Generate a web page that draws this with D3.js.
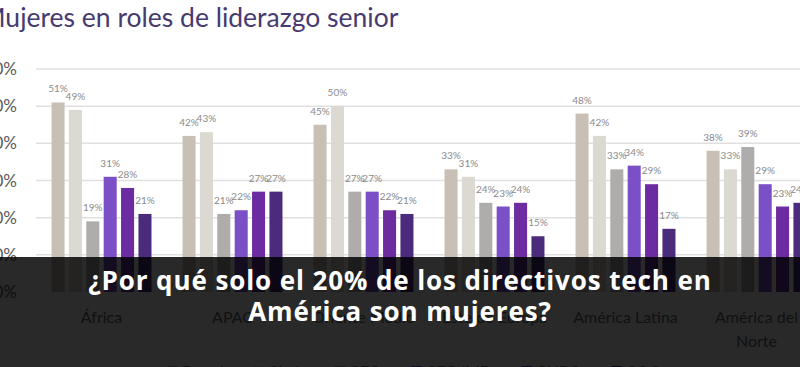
<!DOCTYPE html>
<html>
<head>
<meta charset="utf-8">
<script src="https://cdn.jsdelivr.net/npm/d3@7"></script>
<style>
  html, body { margin: 0; padding: 0; background: #fff; overflow: hidden; }
  svg { display: block; }
</style>
</head>
<body>
<svg id="chart" width="800" height="367"></svg>
<script>
// data
const regions = ["África", "APAC", "Oriente Medio", "Este de Europa", "América Latina", "América del Norte"];
const seriesNames = ["Board", "Chair", "CEO", "CEO/MD", "CHRO", "COO"];
const seriesColors = ["#c9c0b5", "#dcd8d2", "#afadab", "#7b4fc6", "#6c2ba0", "#4b2b7b"];
const values = [
    [51, 49, 19, 31, 28, 21],
    [42, 43, 21, 22, 27, 27],
    [45, 50, 27, 27, 22, 21],
    [33, 31, 24, 23, 24, 15],
    [48, 42, 33, 34, 29, 17],
    [38, 33, 39, 29, 23, 24]
];
const yTicks = [0, 10, 20, 30, 40, 50, 60];
const title = "Mujeres en roles de liderazgo senior";
const bannerLines = ["¿Por qué solo el 20% de los directivos tech en", "América son mujeres?"];

const svg = d3.select("#chart"),
    width = 800,
    height = 367;

const x0 = d3.scaleBand()
    .domain(regions)
    .range([36, 822])
    .paddingInner(0.237)
    .paddingOuter(0.1185);

const x1 = d3.scaleBand()
    .domain(d3.range(seriesNames.length))
    .range([0, x0.bandwidth()])
    .paddingInner(0.25);

const y = d3.scaleLinear()
    .domain([0, 60])
    .range([292, 69]);

// title
svg.append("text")
    .attr("x", -19)
    .attr("y", 27)
    .attr("font-family", "Lato, sans-serif")
    .attr("font-size", 26.5)
    .attr("fill", "#463a70")
    .text(title);

// gridlines + y labels
const yAxis = svg.append("g");
yAxis.selectAll("line")
    .data(yTicks.filter(function(d){ return d > 0 }))
    .enter().append("line")
    .attr("x1", 36).attr("x2", 800)
    .attr("y1", function(d){ return y(d) })
    .attr("y2", function(d){ return y(d) })
    .attr("stroke", "#e0e0e0")
    .attr("stroke-width", 1.5);

yAxis.selectAll("text")
    .data(yTicks)
    .enter().append("text")
    .attr("x", 17)
    .attr("y", function(d){ return y(d) + 6 })
    .attr("text-anchor", "end")
    .attr("font-family", "Lato, sans-serif")
    .attr("font-size", 17)
    .attr("fill", "#5a5a5a")
    .text(function(d){ return d + "%" });

// bars
const groups = svg.selectAll("g.region")
    .data(regions)
    .enter().append("g")
    .attr("class", "region")
    .attr("transform", function(d){ return "translate(" + x0(d) + ",0)" });

groups.selectAll("rect")
    .data(function(d, i){ return values[i].map(function(v, j){ return {s: j, v: v} }) })
    .enter().append("rect")
    .attr("x", function(d){ return x1(d.s) })
    .attr("width", x1.bandwidth())
    .attr("y", function(d){ return y(d.v) })
    .attr("height", function(d){ return y(0) - y(d.v) })
    .attr("fill", function(d){ return seriesColors[d.s] });

groups.selectAll("text.val")
    .data(function(d, i){ return values[i].map(function(v, j){ return {s: j, v: v} }) })
    .enter().append("text")
    .attr("class", "val")
    .attr("x", function(d){ return x1(d.s) + x1.bandwidth() / 2 })
    .attr("y", function(d){ return y(d.v) - 10 })
    .attr("text-anchor", "middle")
    .attr("font-family", "Lato, sans-serif")
    .attr("font-size", 10)
    .attr("fill", "#8a8a8a")
    .text(function(d){ return d.v + "%" });

// category labels (wrap long ones)
groups.each(function(d){
    const g = d3.select(this);
    const words = d.split(" ");
    const lines = d.length > 15 ? [words.slice(0, -1).join(" "), words[words.length - 1]] : [d];
    lines.forEach(function(line, k){
        g.append("text")
            .attr("x", x0.bandwidth() / 2)
            .attr("y", 323 + k * 24)
            .attr("text-anchor", "middle")
            .attr("font-family", "Lato, sans-serif")
            .attr("font-size", 16)
            .attr("fill", "#6a6a6a")
            .text(line);
    });
});

// legend, mostly below the frame
let lx = 168;
seriesNames.forEach(function(name, i){
    svg.append("rect")
        .attr("x", lx).attr("y", 366)
        .attr("width", 10).attr("height", 10)
        .attr("fill", seriesColors[i]);
    const t = svg.append("text")
        .attr("x", lx + 14)
        .attr("y", 377)
        .attr("font-family", "Lato, sans-serif")
        .attr("font-size", 16)
        .attr("fill", "#6a6a6a")
        .text(name);
    lx += 14 + t.node().getComputedTextLength() + 30;
});

// dark banner on top
svg.append("rect")
    .attr("x", 0).attr("y", 257)
    .attr("width", width).attr("height", height - 257)
    .attr("fill", "#000")
    .attr("fill-opacity", 0.84);

bannerLines.forEach(function(line, k){
    svg.append("text")
        .attr("x", 400)
        .attr("y", 290 + k * 31)
        .attr("text-anchor", "middle")
        .attr("font-family", "'Open Sans', sans-serif")
        .attr("font-weight", 700)
        .attr("font-size", 26)
        .attr("letter-spacing", 0.9)
        .attr("fill", "#ffffff")
        .text(line);
});
</script>
</body>
</html>
